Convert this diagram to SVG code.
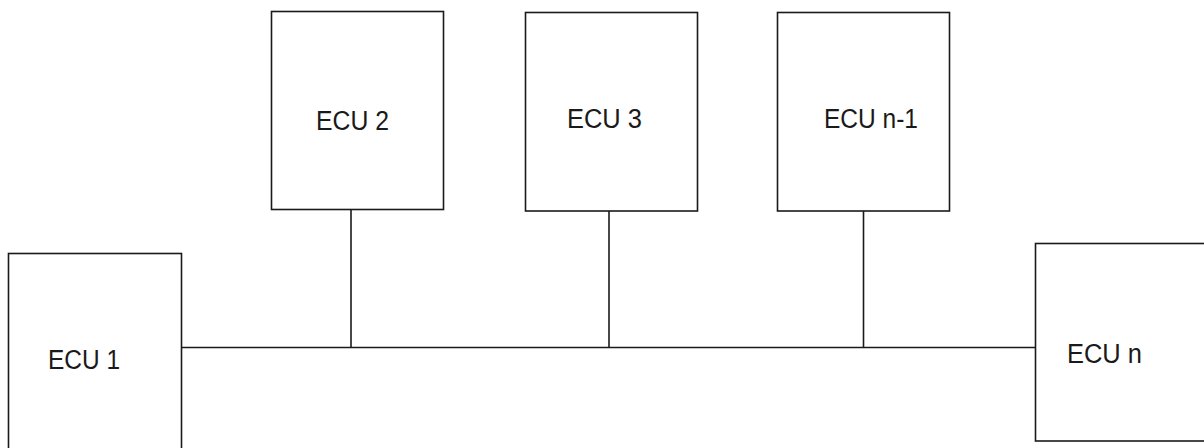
<svg xmlns="http://www.w3.org/2000/svg" width="1204" height="448" viewBox="0 0 1204 448">
  <style>
    .box { fill: #ffffff; stroke: #1a1a1a; stroke-width: 1.6; }
    .wire { fill: none; stroke: #1a1a1a; stroke-width: 1.6; }
    .label { font-family: "Liberation Sans", Arial, sans-serif; font-size: 27px; fill: #1a1a1a; }
  </style>
  <rect width="1204" height="448" fill="#ffffff"/>

  <!-- bus and stubs -->
  <g id="connectors">
    <line class="wire" x1="181.5" y1="347.5" x2="1035" y2="347.5"/>
    <line class="wire" x1="351" y1="209.5" x2="351" y2="347.5"/>
    <line class="wire" x1="609" y1="211" x2="609" y2="347.5"/>
    <line class="wire" x1="863.5" y1="211" x2="863.5" y2="347.5"/>
  </g>

  <g id="ecu1">
    <rect class="box" x="8.5" y="253.5" width="173" height="210"/>
    <text class="label" x="48" y="369" textLength="72" lengthAdjust="spacingAndGlyphs">ECU 1</text>
  </g>
  <g id="ecu2">
    <rect class="box" x="271.5" y="11.5" width="172" height="198"/>
    <text class="label" x="316" y="130" textLength="73" lengthAdjust="spacingAndGlyphs">ECU 2</text>
  </g>
  <g id="ecu3">
    <rect class="box" x="525.5" y="12.5" width="172" height="198.5"/>
    <text class="label" x="567" y="128" textLength="75" lengthAdjust="spacingAndGlyphs">ECU 3</text>
  </g>
  <g id="ecu-n-1">
    <rect class="box" x="777.5" y="12.5" width="172" height="198.5"/>
    <text class="label" x="824" y="128" textLength="94" lengthAdjust="spacingAndGlyphs">ECU n-1</text>
  </g>
  <g id="ecu-n">
    <rect class="box" x="1035.5" y="243.5" width="180" height="197.5"/>
    <text class="label" x="1067" y="363" textLength="75" lengthAdjust="spacingAndGlyphs">ECU n</text>
  </g>
</svg>
